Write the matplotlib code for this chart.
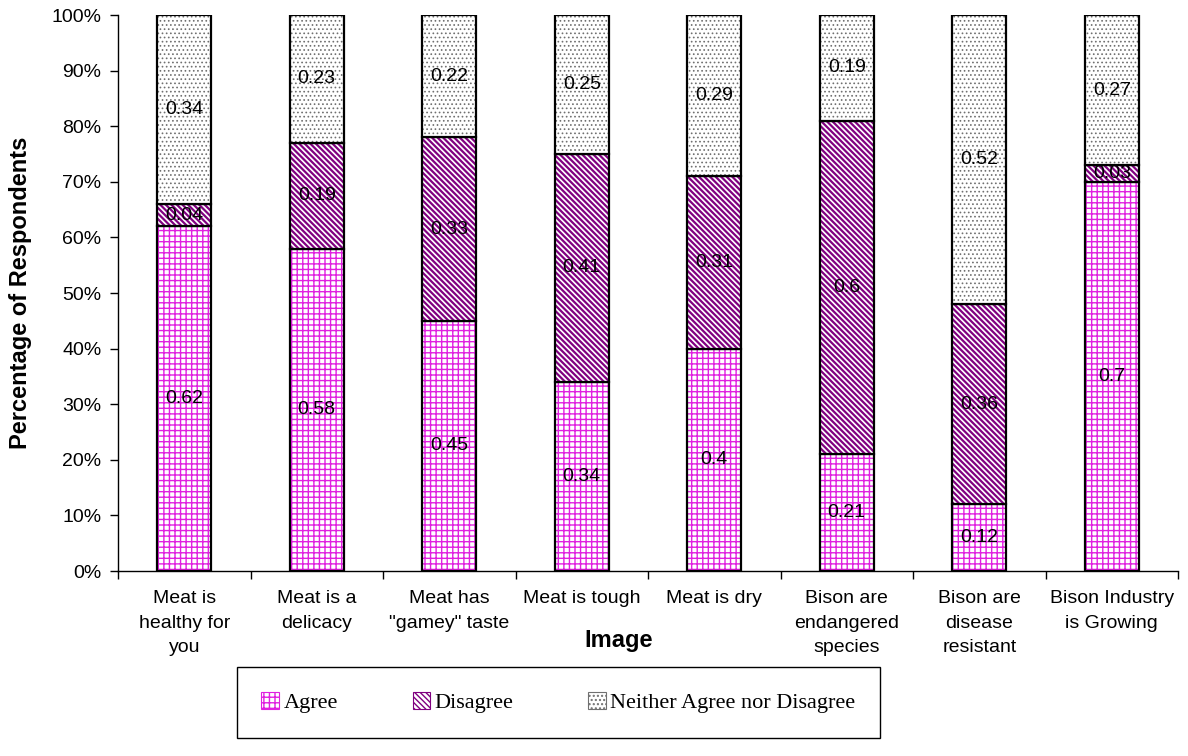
import matplotlib
matplotlib.use("Agg")
import matplotlib.pyplot as plt
from matplotlib.patches import Patch
import numpy as np

categories = ["Meat is\nhealthy for\nyou", "Meat is a\ndelicacy", "Meat has\n\"gamey\" taste",
              "Meat is tough", "Meat is dry", "Bison are\nendangered\nspecies",
              "Bison are\ndisease\nresistant", "Bison Industry\nis Growing"]
agree = [0.62, 0.58, 0.45, 0.34, 0.40, 0.21, 0.12, 0.70]
disagree = [0.04, 0.19, 0.33, 0.41, 0.31, 0.60, 0.36, 0.03]
neither = [0.34, 0.23, 0.22, 0.25, 0.29, 0.19, 0.52, 0.27]
series_names = ["Agree", "Disagree", "Neither Agree nor Disagree"]
yticks = [0, 0.1, 0.2, 0.3, 0.4, 0.5, 0.6, 0.7, 0.8, 0.9, 1.0]

plt.rcParams['font.family'] = ['Liberation Sans', 'DejaVu Sans']

styles = [
    dict(hatch='+++', hcolor='#e020e0', hlw=1.0),
    dict(hatch='\\\\\\\\\\\\', hcolor='#800080', hlw=1.6),
    dict(hatch='....', hcolor='#707070', hlw=0.7),
]

fig = plt.figure(figsize=(11.88, 7.56), dpi=100)
ax = fig.add_axes([118/1188, 1 - 571/756, 1060/1188, 556/756])

x = np.arange(len(categories))
width = 0.41
bottom = np.zeros(len(categories))
for vals, st in zip([agree, disagree, neither], styles):
    vals = np.array(vals)
    with plt.rc_context({'hatch.linewidth': st['hlw']}):
        ax.bar(x, vals, width, bottom=bottom, facecolor='white', edgecolor=st['hcolor'],
               hatch=st['hatch'], linewidth=0)
    ax.bar(x, vals, width, bottom=bottom, facecolor='none', edgecolor='black', linewidth=1.6)
    for xi, b, v in zip(x, bottom, vals):
        ax.text(xi, b + v / 2, f"{v:g}", ha='center', va='center', fontsize=14, color='black')
    bottom = bottom + vals

ax.set_xlim(-0.5, len(categories) - 0.5)
ax.set_ylim(0, 1)
ax.set_yticks(yticks)
ax.set_yticklabels([f"{int(round(t*100))}%" for t in yticks], fontsize=14)
ax.set_xticks(x)
ax.set_xticklabels(categories, fontsize=14)
ax.tick_params(axis='x', length=0, pad=14)
ax.set_xticks(np.arange(len(categories) + 1) - 0.5, minor=True)
ax.tick_params(axis='x', which='minor', length=6, width=1)
ax.tick_params(axis='y', length=6, width=1, pad=6)
for s in ['top', 'right']:
    ax.spines[s].set_visible(False)
ax.spines['left'].set_linewidth(1)
ax.spines['bottom'].set_linewidth(1)

ax.set_ylabel("Percentage of Respondents", fontsize=17, fontweight='bold', labelpad=14)
fig.text(619/1188, 1 - 641/756, "Image", fontsize=17, fontweight='bold', ha='center', va='center')

handles = []
for st in styles:
    with plt.rc_context({'hatch.linewidth': min(st['hlw'], 1.0)}):
        handles.append(Patch(facecolor='white', edgecolor=st['hcolor'], hatch=st['hatch'],
                             linewidth=0.8))
leg = fig.legend(handles, series_names, loc='center', ncol=3, mode='expand',
                 bbox_to_anchor=(237/1188, 1 - 738/756, 643/1188, 71/756),
                 prop={'family': 'Liberation Serif', 'size': 16},
                 handlelength=0.8, handleheight=0.8, handletextpad=0.2,
                 fancybox=False, edgecolor='black', framealpha=1, borderpad=1.1,
                 borderaxespad=0)
leg.get_frame().set_linewidth(1)

fig.canvas.draw()
for lbl in ax.get_xticklabels():
    lbl.set_linespacing(1.55)
    lbl.set_verticalalignment('top')

fig.savefig("out.png", dpi=100)
